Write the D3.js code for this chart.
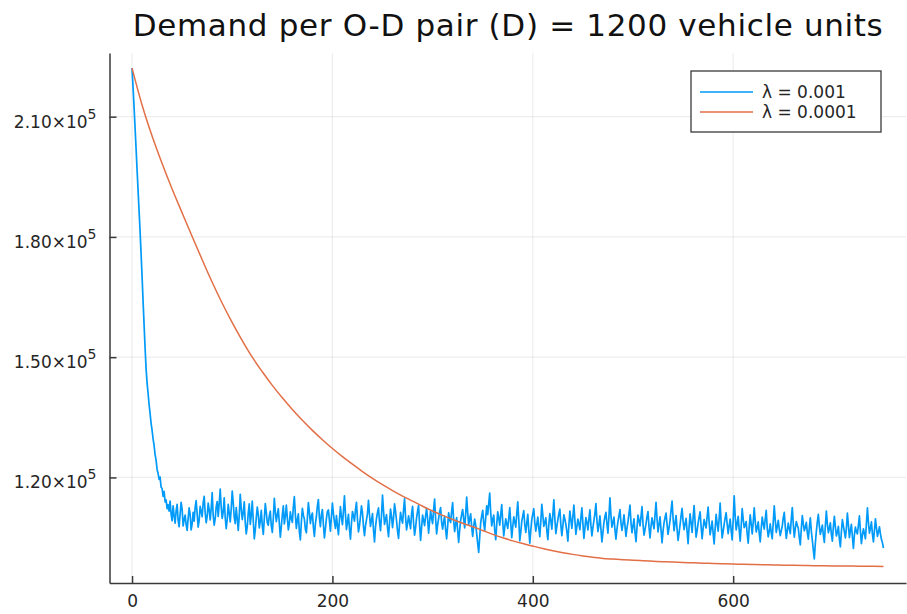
<!DOCTYPE html>
<html>
<head>
<meta charset="utf-8">
<script src="https://cdn.jsdelivr.net/npm/d3@7"></script>
<style>
  body { margin: 0; background: #fff; }
  svg { display: block; font-family: "DejaVu Sans", sans-serif; }
</style>
</head>
<body>
<svg id="chart"></svg>
<script>
// demand per O-D pair, convergence for two step sizes

/*  DATA  */

const chartTitle = 'Demand per O-D pair (D) = 1200 vehicle units';

const seriesNames = ['λ = 0.001', 'λ = 0.0001'];

// lambda = 0.001, one value per iteration (0..750)
const stepHigh = 1;
const demandHigh = [
    222100, 217300, 212500, 207300, 202200, 196900, 191700, 186600, 181500, 176000,
    170200, 164100, 158200, 152400, 147200, 143600, 141000, 138200, 136000, 133500,
    131800, 129600, 128000, 125700, 124300, 122000, 121000, 119500, 120100, 117600,
    117200, 115300, 116500, 113900, 114400, 112200,
    113200, 111600, 114100, 110800, 109200, 112900, 110400, 108600, 111700, 113300, 109300, 107700, 110900, 113800, 112100, 107900, 109500, 110600, 108200, 106800,
    109800, 112400, 110700, 106900, 108400, 111300, 109100, 112600, 114200, 110900, 107600, 109300, 112800, 111500, 110200, 113700, 115300, 111200, 108700, 110300,
    113600, 111900, 109400, 112300, 116200, 110500, 108100, 109700, 112700, 114000, 110300, 113500, 117100, 112600, 109800, 111400, 114900, 110000, 107200, 109600,
    113300, 111100, 108900, 112200, 116600, 113700, 110100, 108500, 112500, 109700, 106800, 110400, 115800, 112300, 109500, 111200, 113900, 108800, 105900, 107800,
    111200, 113400, 108300, 110600, 114100, 109200, 104700, 106900, 109900, 112600, 110800, 107400, 109100, 111800, 108000, 105800, 109600, 113500, 111300, 108700,
    108100, 110400, 111600, 107900, 106300, 109800, 114800, 111500, 109000, 110700, 112200, 108600, 105100, 107700, 110700, 112900, 108400, 110200, 113100, 109900,
    106900, 108500, 111400, 109700, 108800, 112700, 115200, 110800, 107300, 109400, 110900, 106500, 104400, 108900, 112300, 110600, 109600, 107100, 106200, 109800,
    113700, 111400, 108500, 110300, 111100, 107600, 105300, 108400, 110200, 112900, 114500, 109900, 107700, 110800, 112000, 108300, 104900, 107200, 109700, 111500,
    111900, 109300, 106600, 110200, 113600, 111000, 108900, 107300, 110500, 108000, 105700, 109400, 112700, 110100, 108200, 111600, 115400, 110900, 107000, 108800,
    110800, 107300, 104600, 108500, 111500, 110400, 109100, 111900, 113800, 109600, 106400, 108000, 110300, 112900, 111200, 107800, 105500, 107900, 109400, 111000,
    114300, 110700, 107800, 109300, 111000, 106900, 103900, 107600, 109800, 111300, 112400, 108900, 106700, 110500, 115600, 111700, 108300, 109500, 110700, 107400,
    105200, 108700, 112100, 110300, 107500, 109900, 113400, 111600, 109200, 106600, 104800, 108400, 111300, 109700, 108600, 111900, 114700, 110200, 106900, 108500,
    110400, 108800, 107200, 110900, 112800, 108700, 105600, 107400, 109900, 111600, 113000, 108200, 104300, 107500, 110600, 109300, 108000, 110400, 112300, 109700,
    106100, 108900, 111700, 109800, 108500, 111900, 114600, 109700, 105900, 108100, 109800, 111400, 112500, 108800, 107100, 109000, 110300, 106900, 104700, 107800,
    111200, 109400, 108800, 111600, 113700, 109300, 106500, 108400, 110000, 106800, 103800, 106900, 109300, 110800, 112000, 109600, 107400, 110900, 115100, 111300,
    108200, 109700, 110900, 107600, 105300, 107900, 109600, 108100, 106000, 103500, 101300, 105100, 108700, 110400, 111800, 108600, 106800, 109900, 112900, 110700,
    113400, 116100, 111200, 107900, 109500, 110600, 106700, 104500, 108300, 111400, 109900, 108100, 110800, 113200, 108900, 105400, 107600, 109700, 108400, 107300,
    109800, 112500, 108600, 105000, 107700, 110200, 108900, 107600, 110900, 113900, 109500, 104200, 106300, 109100, 110400, 111700, 108200, 106300, 108600, 110800,
    106900, 103600, 106800, 109500, 110900, 112200, 108700, 106600, 108300, 110100, 107400, 105200, 109000, 113300, 110600, 107800, 108700, 109900, 106800, 104500,
    108200, 111000, 109300, 107100, 110600, 114400, 109800, 106000, 107800, 109400, 110900, 112100, 108100, 105500, 107900, 110700, 109600, 108300, 106500, 104100,
    108000, 111600, 109500, 107300, 110200, 113100, 109400, 105800, 107700, 109600, 108400, 107000, 109900, 112400, 108600, 104800, 107300, 110000, 108700, 106900,
    109600, 111900, 108100, 105400, 107500, 109200, 111000, 113500, 109300, 106500, 108200, 110400, 107100, 103900, 106300, 108800, 110200, 111300, 108400, 106100,
    110300, 114900, 110600, 107600, 108800, 110100, 106900, 104600, 107100, 109000, 110500, 112000, 108700, 106800, 108500, 110700, 108000, 105300, 107400, 108900,
    111000, 113100, 108800, 106200, 107900, 109700, 106300, 104000, 107500, 110600, 109300, 107900, 110200, 112700, 108400, 105600, 106900, 108400, 110200, 111500,
    107600, 104900, 107800, 109900, 108500, 107200, 110600, 113800, 109700, 106400, 108300, 110200, 106900, 103700, 106600, 108700, 110000, 111100, 108300, 105800,
    107500, 109300, 111800, 114100, 109900, 106700, 108600, 110500, 107100, 104300, 106200, 108200, 110400, 112300, 109100, 107000, 108500, 109800, 106600, 103500,
    107600, 110900, 108700, 106300, 109900, 113000, 108800, 105100, 106700, 108600, 110100, 111400, 107700, 104700, 107300, 109500, 108300, 107400, 110200, 112600,
    108900, 105700, 107300, 109100, 106100, 103400, 107200, 110800, 108500, 106600, 109700, 113600, 108600, 104900, 106500, 108300, 109900, 111200, 108400, 106000,
    107900, 109600, 106800, 104400, 109300, 115400, 110400, 106900, 108500, 110300, 107000, 104100, 107900, 112200, 109600, 107500, 108100, 109000, 105900, 103600,
    107600, 110700, 108300, 105900, 108800, 112400, 109100, 106400, 107500, 108900, 106100, 103900, 107300, 110100, 108400, 107100, 109700, 111800, 107300, 105200,
    106600, 108400, 106200, 104700, 108900, 112900, 109400, 106300, 107800, 109300, 107100, 105500, 106700, 107900, 109900, 111300, 107800, 104800, 106700, 108600,
    107200, 106000, 109600, 112500, 108300, 105100, 107200, 109000, 108100, 107300, 105000, 103200, 107100, 110500, 108400, 106700, 107600, 108800, 106300, 104600,
    107400, 109900, 106600, 104300, 101900, 99700, 103600, 106500, 108900, 110800, 107900, 105800, 106900, 108100, 105700, 103800, 107900, 111600, 108400, 106200,
    107300, 108700, 105800, 104100, 107600, 110300, 107700, 105400, 106300, 107800, 104600, 102700, 106400, 109500, 107900, 106400, 104900, 107300, 111100, 108200,
    105000, 106800, 108300, 105200, 102300, 105700, 107600, 106500, 105900, 108100, 110400, 106600, 103500, 105600, 107200, 106000, 104700, 108500, 112400, 108700,
    106100, 107300, 108900, 105800, 103900, 106800, 109700, 107400, 105300, 106400, 107700, 105900, 104500, 103700, 102400
];

// lambda = 0.0001, one value every 10 iterations (0..750)
const stepLow = 10;
const demandLow = [
    222100, 212900, 205150, 198300, 191950, 186000, 180100, 174300, 168680, 163460,
    158630, 154150, 150000, 146360, 142970, 139860, 136960, 134270, 131750, 129410,
    127230, 125200, 123300, 121470, 119770, 118190, 116720, 115360, 114100, 112820,
    111620, 110530, 109520, 108580, 107720, 106770, 105810, 104950, 104180, 103500,
    102880, 102280, 101730, 101240, 100810, 100430, 100100, 99800, 99640, 99490,
    99350, 99220, 99100, 98990, 98880, 98790, 98700, 98620, 98540, 98470,
    98410, 98340, 98280, 98220, 98170, 98120, 98070, 98030, 97990, 97960,
    97930, 97900, 97880, 97850, 97830, 97810
];

const seriesColors = ['#009af9', '#e26f46'];

const xTicks = [0, 200, 400, 600];
const yTicks = [120000, 150000, 180000, 210000];
const yTickMantissa = ['1.20', '1.50', '1.80', '2.10'];
const yTickPower = '5';

// axis limits (data extent widened by 3% each side)
const xLimits = [-22.5, 772.5],
    yLimits = [93670, 225880];

/*  LAYOUT  */

const width = 907,
    height = 614;

const margin = {top: 53, right: 1, bottom: 31, left: 109.5};

const axisColor = '#3a3a3a',
    textColor = '#262626';

const svg = d3.select('#chart')
    .attr('width', width)
    .attr('height', height);

const x = d3.scaleLinear()
    .domain(xLimits)
    .range([margin.left, width - margin.right]);

const y = d3.scaleLinear()
    .domain(yLimits)
    .range([height - margin.bottom, margin.top]);

/*  GRID  */

const grid = svg.append('g').attr('class', 'grid');

grid.selectAll('line.gx')
    .data(xTicks)
    .enter().append('line')
    .attr('class', 'gx')
    .attr('x1', d => x(d)).attr('x2', d => x(d))
    .attr('y1', y.range()[1]).attr('y2', y.range()[0]);

grid.selectAll('line.gy')
    .data(yTicks)
    .enter().append('line')
    .attr('class', 'gy')
    .attr('x1', x.range()[0]).attr('x2', x.range()[1])
    .attr('y1', d => y(d)).attr('y2', d => y(d));

grid.selectAll('line')
    .attr('stroke', '#000')
    .attr('stroke-opacity', 0.07)
    .attr('stroke-width', 1.2);

/*  LINES  */

const lineHigh = d3.line()
    .x((d, i) => x(i * stepHigh))
    .y(d => y(d));

const lineLow = d3.line()
    .x((d, i) => x(i * stepLow))
    .y(d => y(d))
    .curve(d3.curveMonotoneX);

svg.append('path')
    .datum(demandHigh)
    .attr('fill', 'none')
    .attr('stroke', seriesColors[0])
    .attr('stroke-width', 1.7)
    .attr('stroke-linejoin', 'round')
    .attr('d', lineHigh);

svg.append('path')
    .datum(demandLow)
    .attr('fill', 'none')
    .attr('stroke', seriesColors[1])
    .attr('stroke-width', 1.5)
    .attr('d', lineLow);

/*  AXES  */

const xAxis = svg.append('g')
    .attr('transform', 'translate(0,' + y.range()[0] + ')')
    .call(d3.axisBottom(x)
        .tickValues(xTicks)
        .tickSizeInner(-7)
        .tickSizeOuter(0)
        .tickPadding(12));

const yAxis = svg.append('g')
    .attr('transform', 'translate(' + x.range()[0] + ',0)')
    .call(d3.axisLeft(y)
        .tickValues(yTicks)
        .tickSizeInner(-7)
        .tickSizeOuter(0)
        .tickPadding(13));

// mantissa x 10 with a raised power
yAxis.selectAll('.tick text')
    .text(null)
    .attr('dy', '0.62em')
    .each(function(d, i) {
        const t = d3.select(this);
        t.append('tspan').text(yTickMantissa[i] + '×10');
        t.append('tspan')
            .attr('dy', -9)
            .attr('font-size', 14)
            .text(yTickPower);
    });

svg.selectAll('.domain, .tick line')
    .attr('stroke', axisColor)
    .attr('stroke-width', 1.5);

svg.selectAll('.tick text')
    .attr('font-family', '"DejaVu Sans", sans-serif')
    .attr('font-size', 17)
    .attr('fill', textColor);

/*  TITLE  */

svg.append('text')
    .attr('x', (x.range()[0] + x.range()[1]) / 2)
    .attr('y', 36)
    .attr('text-anchor', 'middle')
    .attr('font-size', 31)
    .attr('textLength', 750)
    .attr('lengthAdjust', 'spacing')
    .attr('fill', '#111')
    .text(chartTitle);

/*  LEGEND  */

const legend = svg.append('g')
    .attr('transform', 'translate(691,71)');

legend.append('rect')
    .attr('width', 190)
    .attr('height', 61)
    .attr('fill', '#fff')
    .attr('stroke', '#3a3a3a')
    .attr('stroke-width', 1.3);

const entries = legend.selectAll('g.entry')
    .data(seriesNames)
    .enter().append('g')
    .attr('class', 'entry')
    .attr('transform', (d, i) => 'translate(0,' + (21 + i * 20) + ')');

entries.append('line')
    .attr('x1', 9).attr('x2', 62)
    .attr('stroke', (d, i) => seriesColors[i])
    .attr('stroke-width', 1.5);

entries.append('text')
    .attr('x', 71)
    .attr('dy', '0.35em')
    .attr('font-size', 17)
    .attr('fill', textColor)
    .text(d => d);

</script>
</body>
</html>
